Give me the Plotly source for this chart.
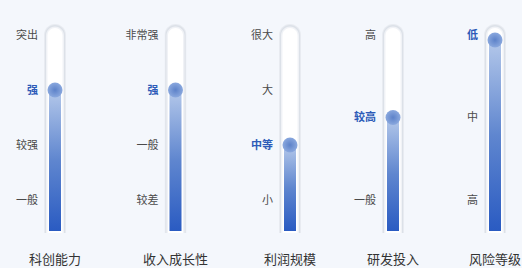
import plotly.graph_objects as go

# ---- data ----
categories = ['科创能力', '收入成长性', '利润规模', '研发投入', '风险等级']
levels = [
    ['一般', '较强', '强', '突出'],
    ['较差', '一般', '强', '非常强'],
    ['小', '中等', '大', '很大'],
    ['一般', '较高', '高'],
    ['高', '中', '低'],
]
ratings = ['强', '强', '中等', '较高', '低']

# ---- style / layout constants ----
W, H = 522, 268
BG = '#f4f7fc'
centers_px = [55, 175.5, 290, 393, 495]
HALF = 11
PX_PER_UNIT = 165.0
Y0_PX = 200.0                       # pixel row of level 0
Y_TOP = Y0_PX / PX_PER_UNIT
Y_BOT = -(H - Y0_PX) / PX_PER_UNIT
FILL_BOTTOM = -(231 - Y0_PX) / PX_PER_UNIT
TUBE_BOTTOM = -(233 - Y0_PX) / PX_PER_UNIT
TUBE_HEIGHT_PX = 233 - 25
KNOB_MAX = (Y0_PX - 40) / PX_PER_UNIT   # keep knob inside the rounded cap
FONT = 'Noto Sans CJK SC'
BLUE = '#2d5bb8'


def tube_path(hw, h):
    k = 0.5523 * hw
    s = h - hw
    return (f'M {-hw},0 L {-hw},{s} '
            f'C {-hw},{s + k} {-k},{s + hw} 0,{s + hw} '
            f'C {k},{s + hw} {hw},{s + k} {hw},{s} '
            f'L {hw},0 Z')


fig = go.Figure()
layout = dict(
    width=W, height=H, paper_bgcolor=BG, plot_bgcolor='rgba(0,0,0,0)',
    margin=dict(l=0, r=0, t=0, b=0), showlegend=False,
    font=dict(family=FONT), shapes=[], annotations=[],
)

for i, (cat, lv, rt) in enumerate(zip(categories, levels, ratings)):
    n = len(lv)
    xa = 'x' if i == 0 else f'x{i + 1}'
    ya = 'y' if i == 0 else f'y{i + 1}'
    xkey = 'xaxis' if i == 0 else f'xaxis{i + 1}'
    ykey = 'yaxis' if i == 0 else f'yaxis{i + 1}'
    c = centers_px[i]
    layout[xkey] = dict(domain=[(c - HALF) / W, (c + HALF) / W], range=[-HALF, HALF],
                        visible=False, fixedrange=True, anchor=ya)
    tickvals = [j / (n - 1) for j in range(n)]
    ticktext = [f"<b><span style='color:{BLUE}'>{t}</span></b>" if t == rt else t for t in lv]
    layout[ykey] = dict(domain=[0, 1], range=[Y_BOT, Y_TOP], anchor=xa,
                        tickvals=tickvals, ticktext=ticktext, showgrid=False,
                        zeroline=False, showline=False, ticks='',
                        ticklabelstandoff=5,
                        tickfont=dict(size=11, color='#4a4a4a', family=FONT))

    # tube (layered for a soft edge)
    for hw, hgt, col in [(11, TUBE_HEIGHT_PX + 1, '#e8ebf1'),
                         (10, TUBE_HEIGHT_PX, '#dce1e8'),
                         (9, TUBE_HEIGHT_PX - 1.5, '#f0f2f6'),
                         (7.5, TUBE_HEIGHT_PX - 3, '#ffffff')]:
        layout['shapes'].append(dict(
            type='path', xref=xa, yref=ya, xsizemode='pixel', ysizemode='pixel',
            xanchor=0, yanchor=TUBE_BOTTOM, path=tube_path(hw, hgt),
            fillcolor=col, line=dict(width=0), layer='below'))

    v = lv.index(rt) / (n - 1)
    knob = min(v, KNOB_MAX)

    # fill column
    fig.add_trace(go.Scatter(
        x=[-6, 6, 6, -6, -6], y=[FILL_BOTTOM, FILL_BOTTOM, knob, knob, FILL_BOTTOM],
        mode='lines', fill='toself', line=dict(width=0), xaxis=xa, yaxis=ya,
        fillgradient=dict(type='vertical',
                          colorscale=[[0, '#2a5bc2'], [0.5, '#5f86cf'], [1, '#b4c8ea']]),
        hoverinfo='skip'))
    # knob
    fig.add_trace(go.Scatter(
        x=[0], y=[knob], mode='markers', xaxis=xa, yaxis=ya,
        marker=dict(size=15, color='#8aa8de',
                    gradient=dict(type='radial', color='#5d82c9'),
                    line=dict(width=0)),
        hoverinfo='skip'))

    layout['annotations'].append(dict(
        x=0, xref=xa, y=(H - 258) / H, yref='paper', text=cat, showarrow=False,
        xanchor='center', yanchor='middle',
        font=dict(size=13, color='#333333', family=FONT)))

fig.update_layout(**layout)
fig.write_html('out.html', config={'displayModeBar': False},
               post_script=f"document.body.style.margin='0';"
                           f"document.body.style.background='{BG}';"
                           f"document.documentElement.style.overflow='hidden';")
